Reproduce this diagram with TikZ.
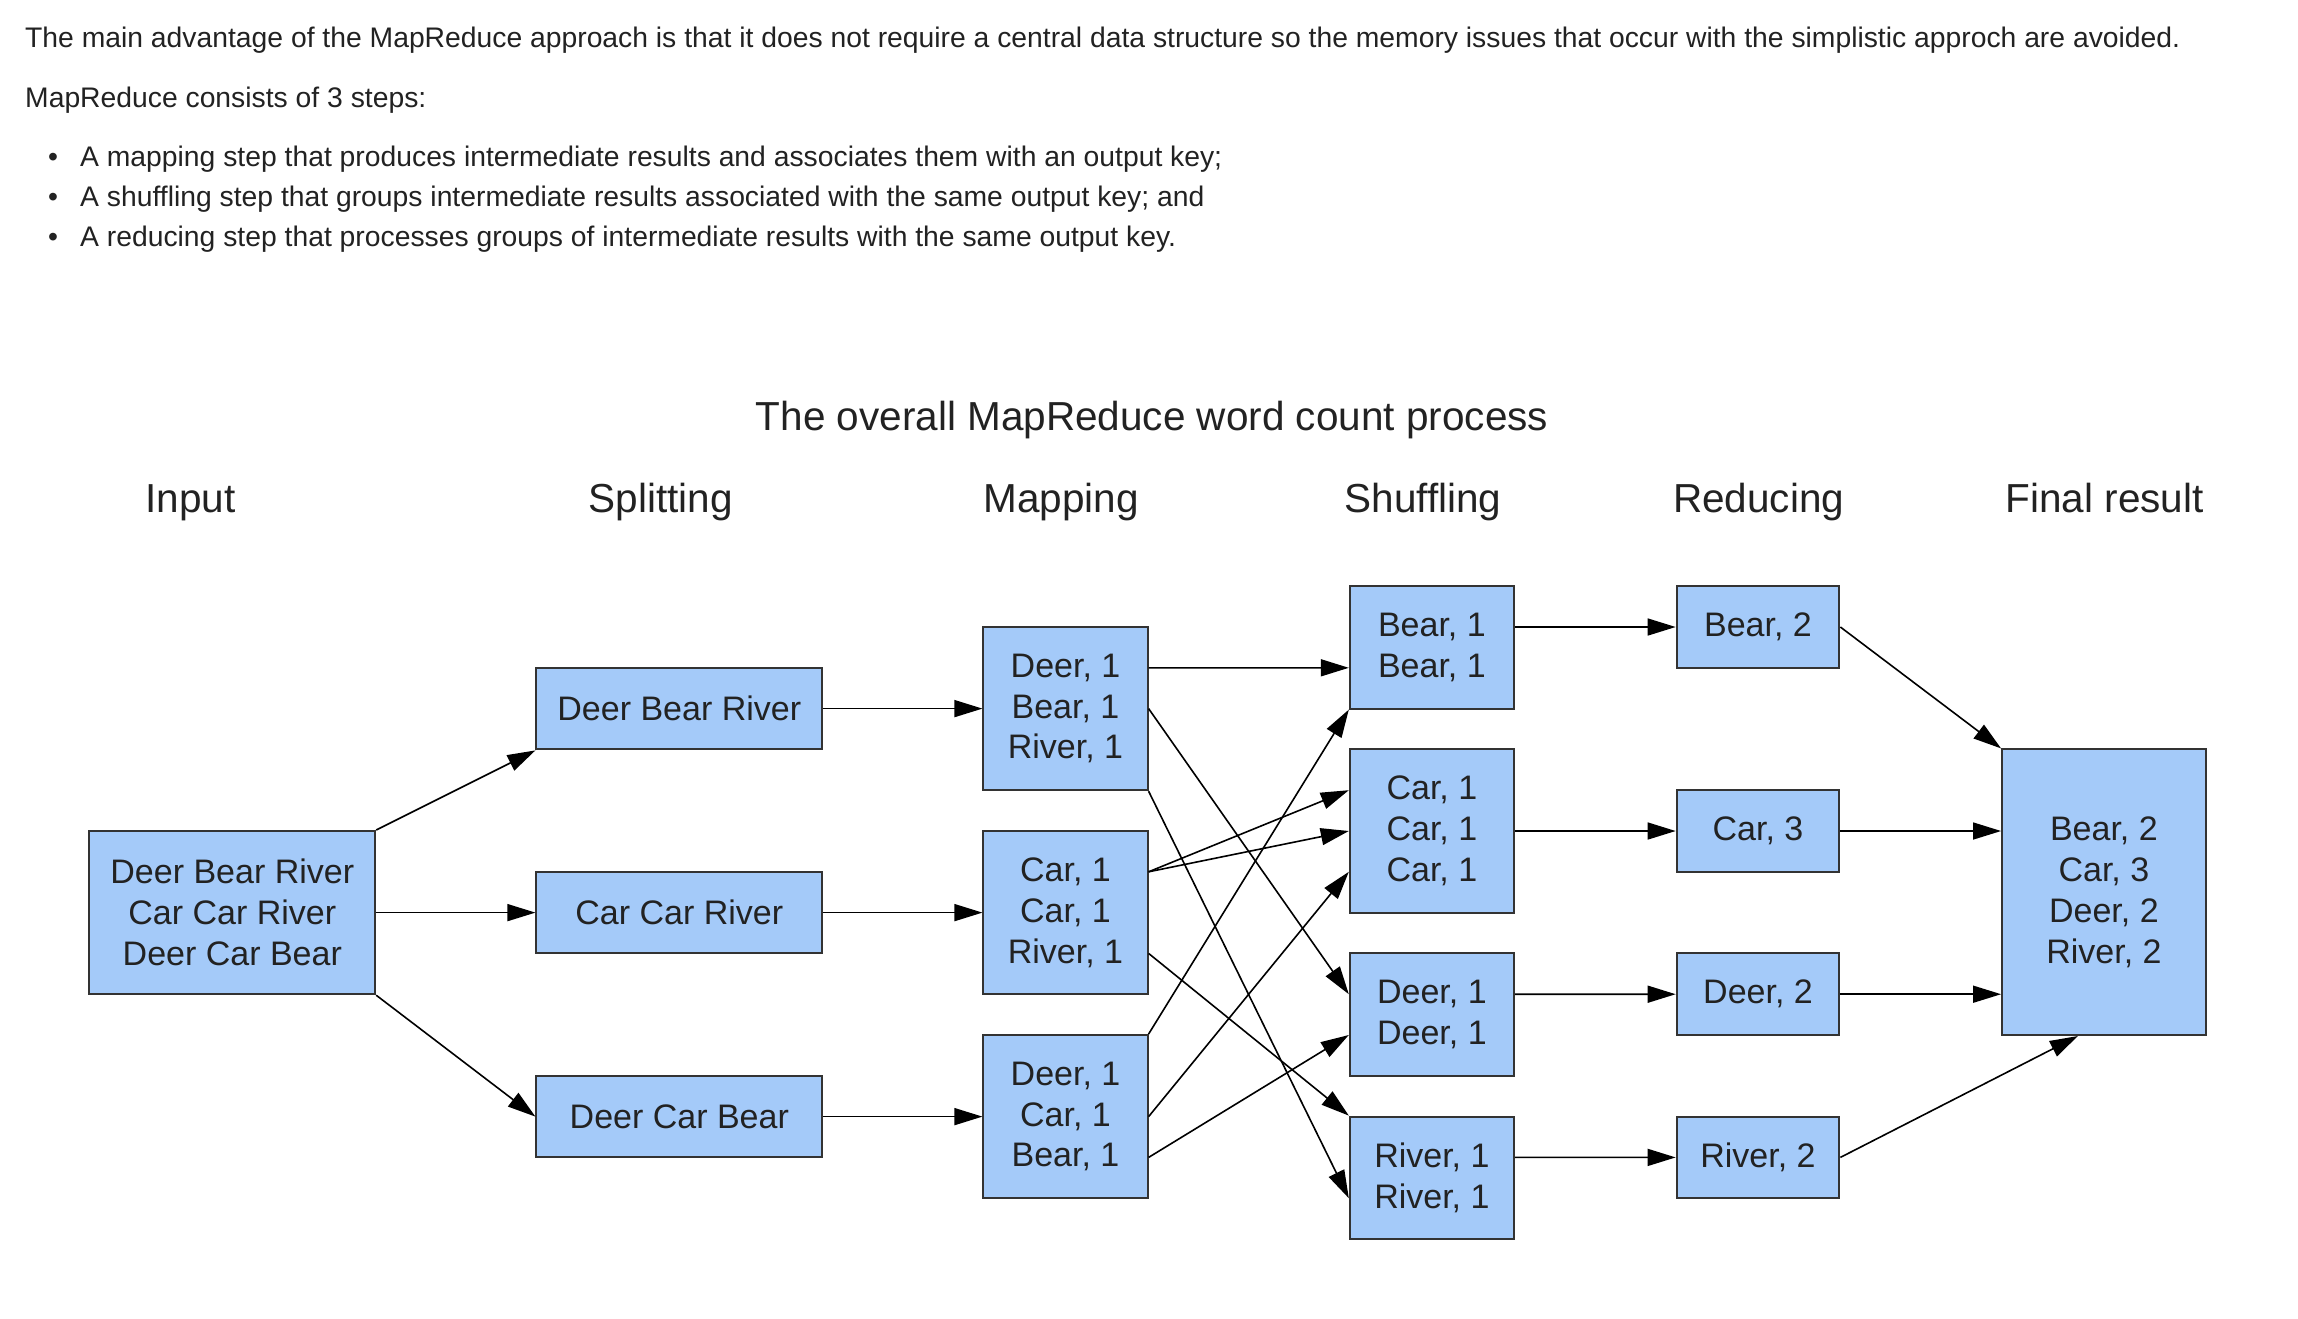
\documentclass[tikz,border=0pt]{standalone}
\usepackage{fontspec}
\setmainfont{Liberation Sans}
\usetikzlibrary{arrows.meta}
\definecolor{boxfill}{RGB}{164,202,249}
\definecolor{boxline}{RGB}{51,51,51}
\definecolor{txt}{RGB}{34,34,34}
\begin{document}
\begin{tikzpicture}[x=1pt,y=-1pt,
  box/.style={draw=boxline, fill=boxfill, line width=2pt, inner sep=0pt, align=center,
    font=\fontsize{34}{40.8}\selectfont, text=txt},
  conn/.style={line width=1.6pt, draw=black, -{Triangle[length=28pt,width=17pt]}},
  hdr/.style={font=\fontsize{40.5}{48}\selectfont, anchor=base, inner sep=0pt, text=txt},
  para/.style={font=\fontsize{28.3}{34}\selectfont, anchor=base west, inner sep=0pt, text=txt}]
\fill[white] (0,0) rectangle (2298,1318);
\useasboundingbox (0,0) rectangle (2298,1318);

% top text
\node[para] (t1) at (25,47) {The main advantage of the MapReduce approach is that it does not require a central data structure so the memory issues that occur with the simplistic approch are avoided.};
\node[para] (t2) at (25,107) {MapReduce consists of 3 steps:};
\node[para, anchor=base] (d1) at (53,166) {\textbullet};
\node[para, anchor=base] (d2) at (53,206) {\textbullet};
\node[para, anchor=base] (d3) at (53,246) {\textbullet};
\node[para] (b1) at (80,166) {A mapping step that produces intermediate results and associates them with an output key;};
\node[para] (b2) at (80,206) {A shuffling step that groups intermediate results associated with the same output key; and};
\node[para] (b3) at (80,246) {A reducing step that processes groups of intermediate results with the same output key.};

% titles
\node[hdr] (title) at (1152,430) {The overall MapReduce word count process};
\node[hdr] (h1) at (190.5,512) {Input};
\node[hdr] (h2) at (661,512) {Splitting};
\node[hdr] (h3) at (1061,512) {Mapping};
\node[hdr] (h4) at (1423,512) {Shuffling};
\node[hdr] (h5) at (1758.7,512) {Reducing};
\node[hdr] (h6) at (2104.6,512) {Final result};

% boxes
\node[box, minimum width=285.8pt, minimum height=163.2pt] (in) at (232.3,912.6) {Deer Bear River\\Car Car River\\Deer Car Bear};

\node[box, minimum width=285.8pt, minimum height=81.6pt] (sp1) at (679.3,708.6) {Deer Bear River};
\node[box, minimum width=285.8pt, minimum height=81.6pt] (sp2) at (679.3,912.6) {Car Car River};
\node[box, minimum width=285.8pt, minimum height=81.6pt] (sp3) at (679.3,1116.6) {Deer Car Bear};

\node[box, minimum width=164.2pt, minimum height=163.2pt] (m1) at (1065.5,708.6) {Deer, 1\\Bear, 1\\River, 1};
\node[box, minimum width=164.2pt, minimum height=163.2pt] (m2) at (1065.5,912.6) {Car, 1\\Car, 1\\River, 1};
\node[box, minimum width=164.2pt, minimum height=163.2pt] (m3) at (1065.5,1116.6) {Deer, 1\\Car, 1\\Bear, 1};

\node[box, minimum width=164.2pt, minimum height=122.4pt] (sh1) at (1431.9,647.4) {Bear, 1\\Bear, 1};
\node[box, minimum width=164.2pt, minimum height=163.2pt] (sh2) at (1431.9,831) {Car, 1\\Car, 1\\Car, 1};
\node[box, minimum width=164.2pt, minimum height=122.4pt] (sh3) at (1431.9,1014.6) {Deer, 1\\Deer, 1};
\node[box, minimum width=164.2pt, minimum height=122.4pt] (sh4) at (1431.9,1177.8) {River, 1\\River, 1};

\node[box, minimum width=162.7pt, minimum height=81.6pt] (r1) at (1758,627) {Bear, 2};
\node[box, minimum width=162.7pt, minimum height=81.6pt] (r2) at (1758,831) {Car, 3};
\node[box, minimum width=162.7pt, minimum height=81.6pt] (r3) at (1758,994.2) {Deer, 2};
\node[box, minimum width=162.7pt, minimum height=81.6pt] (r4) at (1758,1157.4) {River, 2};

\node[box, minimum width=203.7pt, minimum height=285.6pt] (f) at (2103.9,892.2) {Bear, 2\\Car, 3\\Deer, 2\\River, 2};

% input -> splitting
\draw[conn] (in.north east) -- (sp1.south west);
\draw[conn] (in.east) -- (sp2.west);
\draw[conn] (in.south east) -- (sp3.west);

% splitting -> mapping
\draw[conn] (sp1.east) -- (m1.west);
\draw[conn] (sp2.east) -- (m2.west);
\draw[conn] (sp3.east) -- (m3.west);

% mapping -> shuffling
\draw[conn] ([yshift=40.8pt]m1.east) -- ([yshift=-20.4pt]sh1.west);
\draw[conn] (m1.east) -- ([yshift=20.4pt]sh3.west);
\draw[conn] (m1.south east) -- ([yshift=-20.4pt]sh4.west);
\draw[conn] ([yshift=40.8pt]m2.east) -- ([yshift=40.8pt]sh2.west);
\draw[conn] ([yshift=40.8pt]m2.east) -- (sh2.west);
\draw[conn] ([yshift=-40.8pt]m2.east) -- (sh4.north west);
\draw[conn] (m3.north east) -- (sh1.south west);
\draw[conn] (m3.east) -- ([yshift=-40.8pt]sh2.west);
\draw[conn] ([yshift=-40.8pt]m3.east) -- ([yshift=-20.4pt]sh3.west);

% shuffling -> reducing
\draw[conn] ([yshift=20.4pt]sh1.east) -- (r1.west);
\draw[conn] (sh2.east) -- (r2.west);
\draw[conn] ([yshift=20.4pt]sh3.east) -- (r3.west);
\draw[conn] ([yshift=20.4pt]sh4.east) -- (r4.west);

% reducing -> final
\draw[conn] (r1.east) -- (f.north west);
\draw[conn] (r2.east) -- ([yshift=61.2pt]f.west);
\draw[conn] (r3.east) -- ([yshift=-102pt]f.west);
\draw[conn] (r4.east) -- ([xshift=-26pt]f.south);
\end{tikzpicture}
\end{document}
